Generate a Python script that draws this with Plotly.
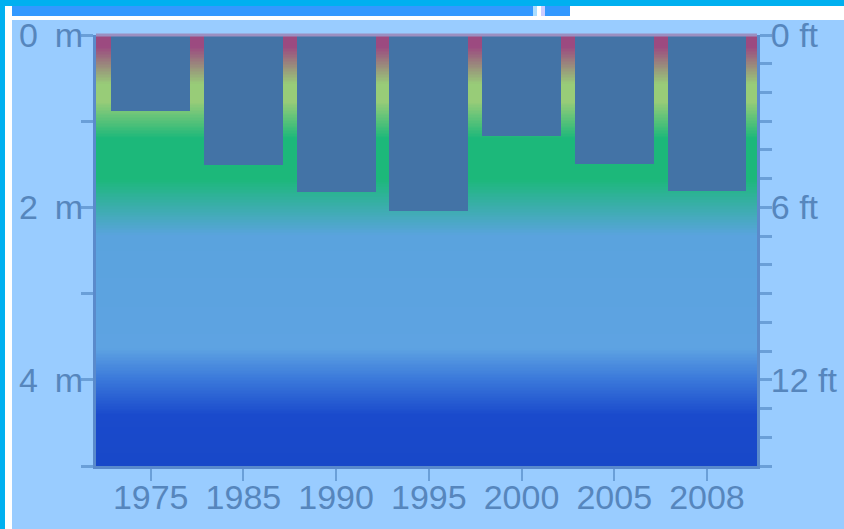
import numpy as np
import plotly.graph_objects as go

# ---- data ----
years = ["1975", "1985", "1990", "1995", "2000", "2005", "2008"]
depth_m = [0.88, 1.51, 1.82, 2.04, 1.17, 1.50, 1.81]
m_ticks = [0, 2, 4]
m_labels = ["0\u2002m", "2\u2002m", "4\u2002m"]
ft_ticks = [0, 6, 12]
ft_labels = ["0 ft", "6 ft", "12 ft"]
ft_range = [15, 0]

# ---- style ----
W, H = 844, 529
ML, MR, MT, MB = 96, 87, 35, 63
PW, PH = W - ML - MR, H - MT - MB
BG = "#99ccff"
BAR = "#4373a6"
LABEL = "#5686bd"
TICK = "#6a9fd8"
AXLINE = "#5a8acb"
FONT = "Liberation Sans, Arial, sans-serif"

grad_stops = [
    (0.000, "#9c4a80"), (0.028, "#9c4a80"), (0.114, "#98cc78"), (0.154, "#98cc78"),
    (0.240, "#1cb87a"), (0.334, "#1cb87a"), (0.466, "#5aa3de"), (0.726, "#5ea3e2"),
    (0.800, "#3a78da"), (0.882, "#1a4acc"), (1.000, "#1848c8"),
]

xs = list(range(len(years)))

# background gradient (decorative) built as a heatmap in depth units
edges = np.linspace(0, 5, 301)
centers = (edges[:-1] + edges[1:]) / 2
bg = go.Heatmap(
    x=[-1, 7], y=edges, z=[[c] for c in centers],
    zmin=0, zmax=5, colorscale=[[s, c] for s, c in grad_stops],
    showscale=False, hoverinfo="skip", zsmooth=False,
)

bars = go.Bar(
    x=xs, y=depth_m, width=0.85, marker=dict(color=BAR, line=dict(width=0)),
    hoverinfo="skip", showlegend=False,
)

# invisible trace so the feet axis on the right is drawn
ft_axis = go.Scatter(
    x=[xs[0], xs[-1]], y=ft_range, yaxis="y2", mode="markers",
    marker=dict(opacity=0, size=1), hoverinfo="skip", showlegend=False,
)

fig = go.Figure([bg, bars, ft_axis])


def px2x(px):
    return (px - ML) / PW


def px2y(py):
    return (H - MB - py) / PH


def rect(x0, y0, x1, y1, color):
    return dict(type="rect", xref="paper", yref="paper",
                x0=px2x(x0), x1=px2x(x1), y0=px2y(y1), y1=px2y(y0),
                fillcolor=color, line=dict(width=0), layer="above")


shapes = [
    rect(0, 0, W, 6, "#00b0f0"),
    rect(0, 0, 5, H, "#00b0f0"),
    rect(5, 6, 12, H, "#ffffff"),
    rect(12, 6, W, 20, "#ffffff"),
    rect(12, 6, 570, 16, "#3399ff"),
    rect(533, 6, 537, 16, "#aaddff"),
    rect(537, 6, 541, 16, "#ffffff"),
    rect(541, 6, 545, 16, "#ccccff"),
    dict(type="line", xref="paper", yref="paper", x0=0, x1=1, y0=1, y1=1,
         line=dict(color="#9b8fc1", width=3), layer="above"),
]

common = dict(showgrid=False, zeroline=False, showline=True, linecolor=AXLINE, linewidth=3,
              ticks="outside", ticklen=12, tickcolor=TICK, automargin=False,
              tickfont=dict(family=FONT, size=34, color=LABEL))

fig.update_layout(
    template="none",
    width=W, height=H, autosize=False,
    margin=dict(l=ML, r=MR, t=MT, b=MB, pad=0, autoexpand=False),
    paper_bgcolor=BG, plot_bgcolor=BG,
    showlegend=False, bargap=0,
    font=dict(family=FONT, size=34, color=LABEL),
    shapes=shapes,
    xaxis=dict(
        range=[-0.59, 6.54], tickmode="array", tickvals=xs, ticktext=years,
        tickwidth=2, ticklabelstandoff=-13, **common,
    ),
    yaxis=dict(
        range=[5, 0], tickmode="array", tickvals=m_ticks, ticktext=m_labels,
        tickwidth=3, ticklabelstandoff=-9,
        minor=dict(tickvals=[1, 3, 5], ticks="outside", ticklen=12, tickwidth=3, tickcolor=TICK),
        **common,
    ),
    yaxis2=dict(
        overlaying="y", side="right", anchor="x",
        range=ft_range, tickmode="array", tickvals=ft_ticks, ticktext=ft_labels,
        tickwidth=3, ticklabelstandoff=-8,
        minor=dict(dtick=1, tick0=0, ticks="outside", ticklen=12, tickwidth=3, tickcolor=TICK),
        **common,
    ),
)

fig.write_html(
    "out.html",
    config={"displayModeBar": False},
    post_script="document.body.style.margin='0';document.body.style.overflow='hidden';",
)
